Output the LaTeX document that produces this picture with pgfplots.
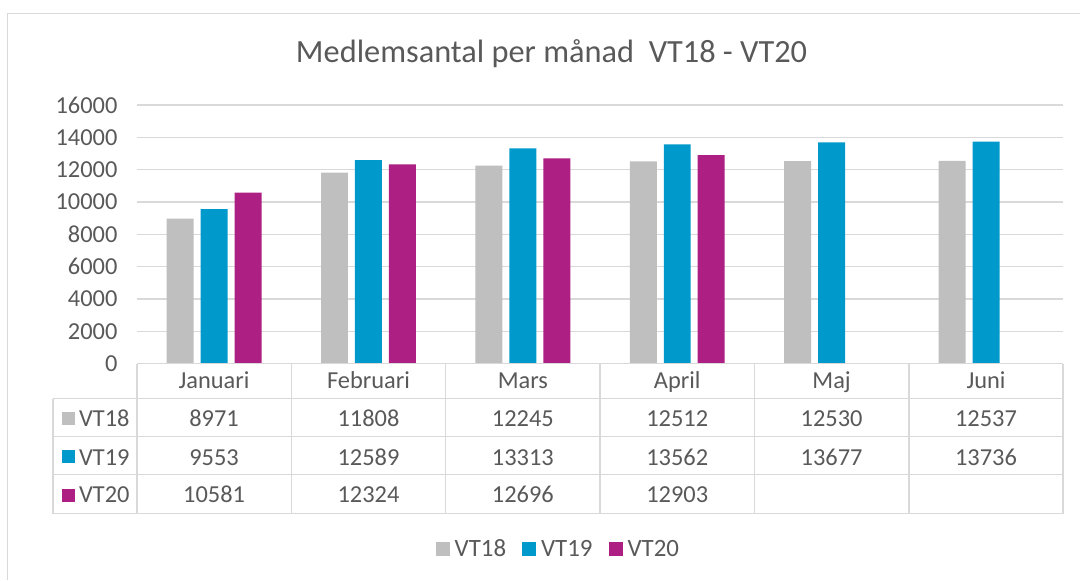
\documentclass[border=0pt]{standalone}
\usepackage{pgfplots}
\pgfplotsset{compat=1.18}
\usepackage{fontspec}
\setmainfont{Carlito}
\definecolor{vtgray}{HTML}{BFBFBF}
\definecolor{vtblue}{HTML}{0099CC}
\definecolor{vtmag}{HTML}{AD1F83}
\definecolor{txt}{HTML}{595959}
\definecolor{lns}{HTML}{D9D9D9}
\begin{document}
\begin{tikzpicture}[x=1bp,y=1bp]
% canvas 1081 x 580
\path (0,0) rectangle (1081,580);
\draw[lns, line width=1.6bp] (7.5,0) -- (7.5,566.5) -- (1081,566.5);
\node[txt, font=\fontsize{32.5}{38}\selectfont, anchor=base] at (552,517) {Medlemsantal per månad\ \ VT18 - VT20};
\begin{axis}[
    at={(137bp,216bp)}, anchor=south west,
    width=927bp, height=259bp, scale only axis,
    xmin=-0.5, xmax=5.5, ymin=0, ymax=16000,
    ybar=7bp, bar width=27bp,
    axis line style={draw=none},
    xtick=\empty,
    ytick={0,2000,...,16000},
    major tick length=0pt,
    ymajorgrids, grid style={lns, line width=1.5bp},
    y tick label style={font=\fontsize{24.5}{28}\selectfont, text=txt, xshift=-16bp},
    /pgf/number format/assume math mode=true,
    scaled y ticks=false,
    yticklabel={\pgfmathprintnumber[fixed,1000 sep={}]{\tick}},
    legend style={at={(0.455,-0.715)}, anchor=center, draw=none, fill=none,
      legend columns=3, font=\fontsize{25}{28}\selectfont, text=txt,
      /tikz/every even column/.append style={column sep=14bp}},
    legend image code/.code={\fill[#1] (0bp,-7bp) rectangle (14bp,7bp); \path (17bp,0bp);},
    clip=false,
]
\addplot[fill=vtgray, draw=none] coordinates {(0,8971) (1,11808) (2,12245) (3,12512) (4,12530) (5,12537)};
\addplot[fill=vtblue, draw=none] coordinates {(0,9553) (1,12589) (2,13313) (3,13562) (4,13677) (5,13736)};
\addplot[fill=vtmag, draw=none] coordinates {(0,10581) (1,12324) (2,12696) (3,12903)};
\legend{VT18,VT19,VT20}
\end{axis}
% data table
\begin{scope}[lns, line width=1.5bp]
  \draw (137,216) -- (1064,216);
  \foreach \yy in {181,143,105,66} \draw (53,\yy) -- (1064,\yy);
  \draw (53,181) -- (53,66);
  \foreach \xx in {137,291.5,446,600.5,755,909.5,1064} \draw (\xx,216) -- (\xx,66);
\end{scope}
\begin{scope}[every node/.style={text=txt, font=\fontsize{24.5}{28}\selectfont, anchor=base}]
  \foreach \m [count=\i from 0] in {Januari,Februari,Mars,April,Maj,Juni}
    \node at (137+154.5*\i+77.25,191) {\m};
  \foreach \v [count=\i from 0] in {8971,11808,12245,12512,12530,12537}
    \node at (137+154.5*\i+77.25,153) {\v};
  \foreach \v [count=\i from 0] in {9553,12589,13313,13562,13677,13736}
    \node at (137+154.5*\i+77.25,114.5) {\v};
  \foreach \v [count=\i from 0] in {10581,12324,12696,12903}
    \node at (137+154.5*\i+77.25,77) {\v};
  \fill[vtgray] (62,155) rectangle (75,168);
  \fill[vtblue] (62,117) rectangle (75,130);
  \fill[vtmag] (62,78) rectangle (75,91);
  \node[anchor=base west, inner sep=0pt] at (79,153) {VT18};
  \node[anchor=base west, inner sep=0pt] at (79,114.5) {VT19};
  \node[anchor=base west, inner sep=0pt] at (79,77) {VT20};
\end{scope}
\end{tikzpicture}
\end{document}
